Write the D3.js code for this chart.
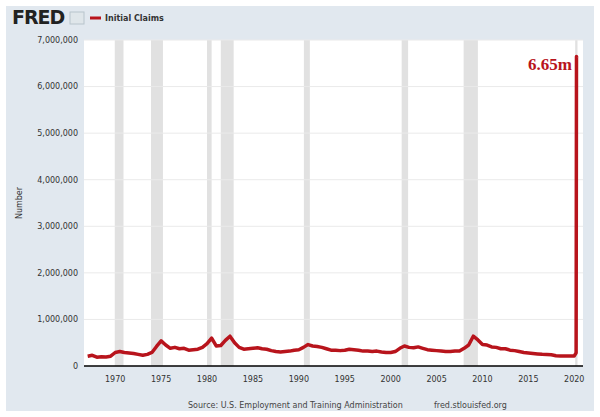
<!DOCTYPE html>
<html><head><meta charset="utf-8">
<script src="https://cdn.jsdelivr.net/npm/d3@7"></script>
<style>body{margin:0;background:#fff}</style>
</head><body>
<svg id="chart" width="600" height="417"></svg>
<script>
// semiannual readings, thousands
let years = [];
for (let yr = 1967; yr <= 2019; yr++) { years.push(yr, yr + 0.5); }
let claims = [210,230,190,200,195,210,290,310,290,280,270,250,230,250,290,420,540,450,380,400,
  370,380,340,350,360,400,480,600,430,440,550,640,500,400,360,370,380,390,370,360,
  330,310,300,310,320,340,350,400,460,430,420,400,370,340,340,330,340,360,350,340,
  320,320,310,320,300,290,290,310,380,430,400,390,410,380,350,340,330,320,310,310,
  320,320,380,450,640,560,460,450,410,400,370,370,340,330,310,290,280,270,260,250,
  245,240,220,215,215,215];
let tailYears = [2020.0, 2020.2, 2020.22, 2020.24, 2020.26];
let tailClaims = [215, 282, 3307, 6648, 6615];
let recessions = [[1969.95,1970.9],[1973.9,1975.2],[1980.0,1980.5],[1981.5,1982.9],
  [1990.55,1991.2],[2001.2,2001.9],[2007.95,2009.5],[2020.1,2020.35]];
let yTicks = [0,1000000,2000000,3000000,4000000,5000000,6000000,7000000];
let xTicks = [1970,1975,1980,1985,1990,1995,2000,2005,2010,2015,2020];

let allYears = years.concat(tailYears);
let allClaims = claims.concat(tailClaims);
let data = allYears.map((t, i) => ({t: t, v: allClaims[i] * 1000}));

let svg = d3.select("#chart");
let pLeft = 84, pRight = 583, pTop = 40, pBottom = 366;
let font = "DejaVu Sans, sans-serif";
let red = "#b8141c";

svg.append("rect").attr("x", 6).attr("y", 6).attr("width", 588).attr("height", 405).style("fill", "#e1e8ef");
svg.append("rect").attr("x", pLeft).attr("y", pTop).attr("width", pRight - pLeft).attr("height", pBottom - pTop).style("fill", "#fff");

let x = d3.scaleLinear().domain([1966.6, 2020.95]).range([pLeft, pRight]);
let y = d3.scaleLinear().domain([0, 7000000]).range([pBottom, pTop]);

svg.selectAll(".rec").data(recessions).enter().append("rect")
  .attr("x", d => x(d[0])).attr("y", pTop)
  .attr("width", d => x(d[1]) - x(d[0])).attr("height", pBottom - pTop)
  .style("fill", "#e1e1e1");

svg.selectAll(".grid").data(yTicks.slice(1)).enter().append("line")
  .attr("x1", pLeft).attr("x2", pRight).attr("y1", d => y(d)).attr("y2", d => y(d))
  .style("stroke", "#eaeaea").style("stroke-width", "1px");

svg.append("path").datum(data)
  .attr("d", d3.line().x(d => x(d.t)).y(d => y(d.v)))
  .style("fill", "none").style("stroke", red).style("stroke-width", "3.5px").style("stroke-linejoin", "round");

svg.append("line").attr("x1", pLeft).attr("x2", pRight).attr("y1", pBottom).attr("y2", pBottom)
  .style("stroke", "#000").style("stroke-width", "1.5px");

svg.selectAll(".yl").data(yTicks).enter().append("text")
  .attr("x", pLeft - 6).attr("y", d => y(d)).attr("dy", "0.35em")
  .text(d => d3.format(",")(d))
  .style("text-anchor", "end").style("font-family", font).style("font-size", "8px").style("fill", "#333");

svg.selectAll(".xl").data(xTicks).enter().append("text")
  .attr("x", d => x(d)).attr("y", pBottom + 16)
  .text(d => d)
  .style("text-anchor", "middle").style("font-family", font).style("font-size", "8px").style("fill", "#333");

svg.append("text").attr("transform", "translate(22," + (pTop + pBottom) / 2 + ") rotate(-90)")
  .text("Number").style("text-anchor", "middle").style("font-family", font).style("font-size", "8px").style("fill", "#333");

// header
svg.append("text").attr("x", 12).attr("y", 24).text("FRED")
  .style("font-family", font).style("font-weight", "bold").style("font-size", "19px")
  .style("fill", "#222").style("letter-spacing", "-1px");
svg.append("rect").attr("x", 70).attr("y", 12).attr("width", 14).attr("height", 12).style("fill", "#dfe6ea").style("stroke", "#b8c4cc");
svg.append("line").attr("x1", 90).attr("x2", 101).attr("y1", 18).attr("y2", 18).style("stroke", red).style("stroke-width", "3px");
svg.append("text").attr("x", 105).attr("y", 21).text("Initial Claims")
  .style("font-family", font).style("font-weight", "bold").style("font-size", "8px").style("fill", "#333");

svg.append("text").attr("x", pRight - 11).attr("y", 70).text("6.65m")
  .style("text-anchor", "end").style("font-family", "Liberation Serif, serif").style("font-weight", "bold")
  .style("font-size", "17px").style("fill", red);

svg.append("text").attr("x", 188).attr("y", 408).text("Source: U.S. Employment and Training Administration")
  .style("font-family", font).style("font-size", "8px").style("fill", "#444");
svg.append("text").attr("x", 434).attr("y", 408).text("fred.stlouisfed.org")
  .style("font-family", font).style("font-size", "8px").style("fill", "#444");
</script>
</body></html>
